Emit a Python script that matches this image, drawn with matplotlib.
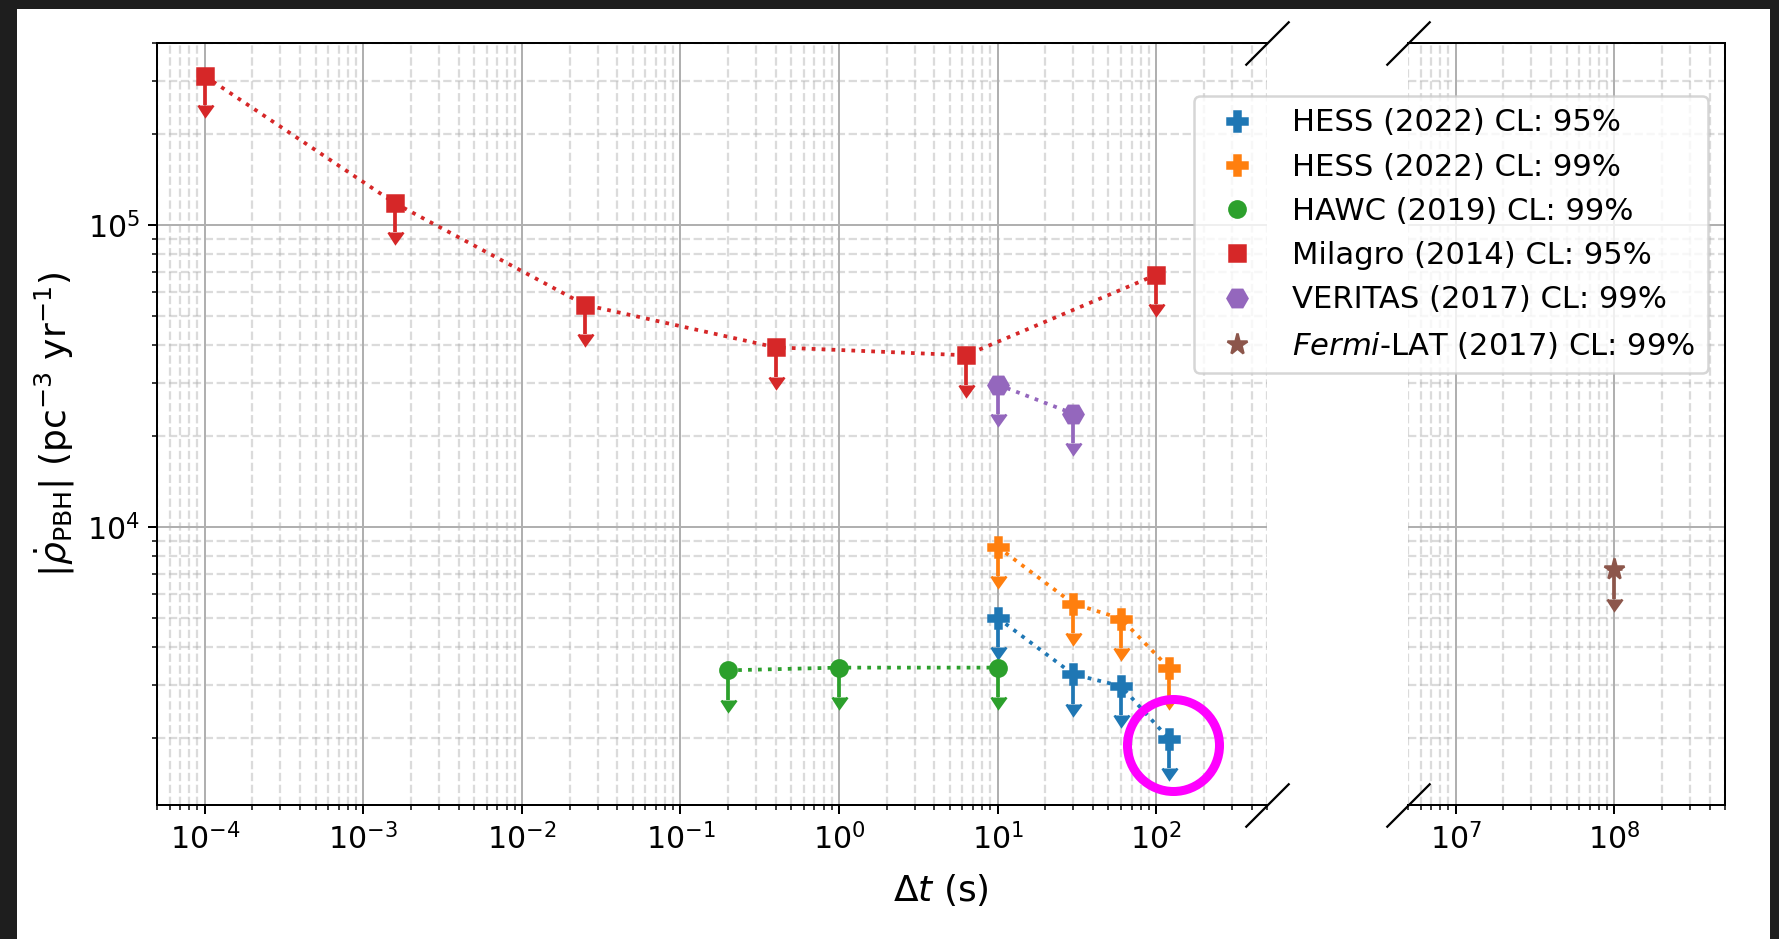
import numpy as np
import matplotlib.pyplot as plt
from matplotlib.lines import Line2D
from matplotlib.patches import Rectangle
from matplotlib.ticker import LogLocator, NullFormatter
from matplotlib.transforms import ScaledTranslation

# upper limits on the PBH burst rate
hess95_dt = [10, 30, 60, 120]
hess95_rate = [5.0e3, 3.25e3, 2.97e3, 1.99e3]
hess99_dt = [10, 30, 60, 120]
hess99_rate = [8.59e3, 5.57e3, 4.97e3, 3.42e3]
hawc_dt = [0.2, 1, 10]
hawc_rate = [3.35e3, 3.42e3, 3.42e3]
milagro_dt = [1e-4, 1.58e-3, 2.51e-2, 0.398, 6.31, 100]
milagro_rate = [3.11e5, 1.18e5, 5.43e4, 3.93e4, 3.70e4, 6.83e4]
veritas_dt = [10, 30]
veritas_rate = [2.96e4, 2.37e4]
fermi_dt = [1e8]
fermi_rate = [7.24e3]

labels = ['HESS (2022) CL: 95%', 'HESS (2022) CL: 99%', 'HAWC (2019) CL: 99%',
          'Milagro (2014) CL: 95%', 'VERITAS (2017) CL: 99%',
          r'$\it{Fermi}$-LAT (2017) CL: 99%']
markers = ['P', 'P', 'o', 's', 'H', '*']
colors = ['C0', 'C1', 'C2', 'C3', 'C4', 'C5']
sizes = [8, 8, 6.5, 6.5, 8, 8.5]

DPI = 180
plt.rcParams['font.size'] = 12

fig = plt.figure(figsize=(1779 / DPI, 939 / DPI), dpi=DPI)
fig.patch.set_facecolor('#1e1e1e')
# white page inside the dark frame of the screenshot
fig.patches.append(Rectangle((17 / 1779, 0), 1753 / 1779, 930 / 939,
                             transform=fig.transFigure, facecolor='white',
                             edgecolor='none', zorder=-10))

bottom, height = 1 - 805 / 939, 762 / 939
ax1 = fig.add_axes([157 / 1779, bottom, 1110 / 1779, height])
ax2 = fig.add_axes([1408 / 1779, bottom, 317 / 1779, height], sharey=ax1)

series = [
    (hess95_dt, hess95_rate),
    (hess99_dt, hess99_rate),
    (hawc_dt, hawc_rate),
    (milagro_dt, milagro_rate),
    (veritas_dt, veritas_rate),
]


def draw_limits(ax, dt, rate, marker, color, ms, ls=':'):
    rate = np.array(rate)
    # capsize sets the size of the down-arrow carets (2 * capsize)
    ax.errorbar(dt, rate, yerr=0.2 * rate, uplims=True, fmt=marker, ls=ls,
                color=color, ms=ms, lw=1.5, capsize=3, zorder=3)


for (dt, rate), m, c, s in zip(series, markers, colors, sizes):
    draw_limits(ax1, dt, rate, m, c, s)
draw_limits(ax2, fermi_dt, fermi_rate, markers[5], colors[5], sizes[5], ls='none')

# highlight ring around the last HESS point
ring = ScaledTranslation(4 / DPI, -6 / DPI, fig.dpi_scale_trans)
ax1.plot(hess95_dt[-1:], hess95_rate[-1:], 'o', ms=36.8, mfc='none',
         mec='#ff00ff', mew=3.6, transform=ax1.transData + ring,
         clip_on=False, zorder=5)

for ax in (ax1, ax2):
    ax.set_xscale('log')
    ax.set_yscale('log')
    ax.set_axisbelow(True)
    ax.xaxis.set_major_locator(LogLocator(base=10, numticks=20))
    ax.xaxis.set_minor_locator(LogLocator(base=10, subs=np.arange(2, 10), numticks=200))
    ax.xaxis.set_minor_formatter(NullFormatter())
    ax.grid(True, which='major', color='#b0b0b0', lw=0.8)
    ax.grid(True, which='minor', color='#b0b0b0', ls='--', lw=0.9, alpha=0.45)

ax1.set_xlim(5e-5, 5e2)
ax2.set_xlim(5e6, 5e8)
ax1.set_ylim(1.2e3, 4e5)
ax1.yaxis.set_minor_formatter(NullFormatter())

ax1.spines['right'].set_visible(False)
ax2.spines['left'].set_visible(False)
ax2.tick_params(axis='y', which='both', left=False, labelleft=False)

# break marks
kw = dict(marker=[(-1, -1), (1, 1)], markersize=17.6, linestyle='none',
          color='k', mec='k', mew=0.9, clip_on=False)
ax1.plot([1, 1], [0, 1], transform=ax1.transAxes, **kw)
ax2.plot([0, 0], [0, 1], transform=ax2.transAxes, **kw)

ax1.set_ylabel(r'$|\dot{\rho}_{\rm PBH}|$ (pc$^{-3}$ yr$^{-1}$)', fontsize=14.4)
fig.text(941 / 1779, 1 - 890 / 939, r'$\Delta t$ (s)', fontsize=14.4,
         ha='center', va='center')

handles = [Line2D([], [], marker=m, color=c, ls='none', ms=s)
           for m, c, s in zip(markers, colors, sizes)]
fig.legend(handles, labels, loc='upper right', borderaxespad=0, fontsize=12.25,
           bbox_to_anchor=(1708 / 1779, 1 - 96 / 939))

fig.savefig('out.png', dpi=DPI, facecolor=fig.get_facecolor())
